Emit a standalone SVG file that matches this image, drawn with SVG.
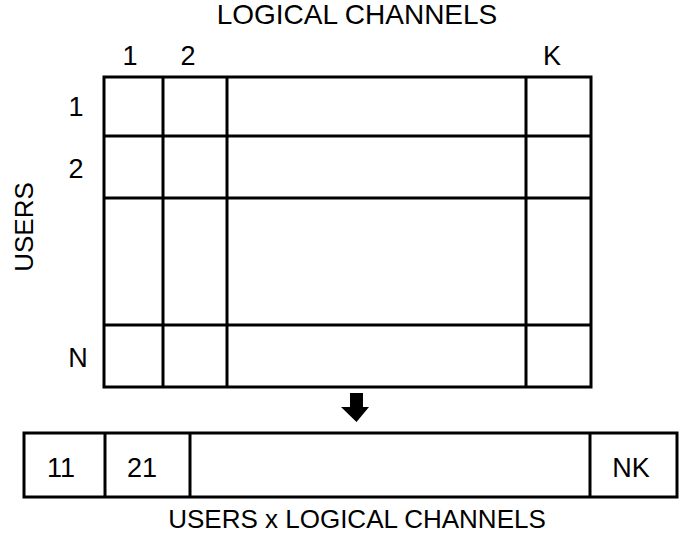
<svg xmlns="http://www.w3.org/2000/svg" width="696" height="538" viewBox="0 0 696 538">
<style>
.l{stroke:#000;stroke-width:3;fill:none}
text{font-family:"Liberation Sans",Arial,sans-serif;font-size:27px;fill:#000}
.c{text-anchor:middle}
.t{font-size:28px}
.u{font-size:26px}
</style>
<rect width="696" height="538" fill="#fff"/>
<g id="grid">
<rect class="l" x="104" y="77" width="487" height="310"/>
<line class="l" x1="163" y1="77" x2="163" y2="387"/>
<line class="l" x1="227" y1="77" x2="227" y2="387"/>
<line class="l" x1="526" y1="77" x2="526" y2="387"/>
<line class="l" x1="104" y1="136" x2="591" y2="136"/>
<line class="l" x1="104" y1="198" x2="591" y2="198"/>
<line class="l" x1="104" y1="325" x2="591" y2="325"/>
</g>
<g id="labels">
<text class="c t" x="357" y="24">LOGICAL CHANNELS</text>
<text class="c" x="130" y="65">1</text>
<text class="c" x="188" y="65">2</text>
<text class="c" x="552" y="65">K</text>
<text class="c" x="76" y="116">1</text>
<text class="c" x="76" y="178">2</text>
<text class="c" x="78" y="367">N</text>
<text class="c u" transform="translate(33,227) rotate(-90)">USERS</text>
</g>
<g id="connectors">
<polygon points="350,393 363,393 363,407 369,407 356.5,422 341,407 350,407" fill="#000"/>
</g>
<g id="row">
<rect class="l" x="24" y="433" width="653" height="64"/>
<line class="l" x1="105" y1="433" x2="105" y2="497"/>
<line class="l" x1="190" y1="433" x2="190" y2="497"/>
<line class="l" x1="590" y1="433" x2="590" y2="497"/>
<text class="c" x="61" y="477">11</text>
<text class="c" x="142" y="477">21</text>
<text class="c" x="631" y="477">NK</text>
<text class="c u" x="357" y="528">USERS x LOGICAL CHANNELS</text>
</g>
</svg>
